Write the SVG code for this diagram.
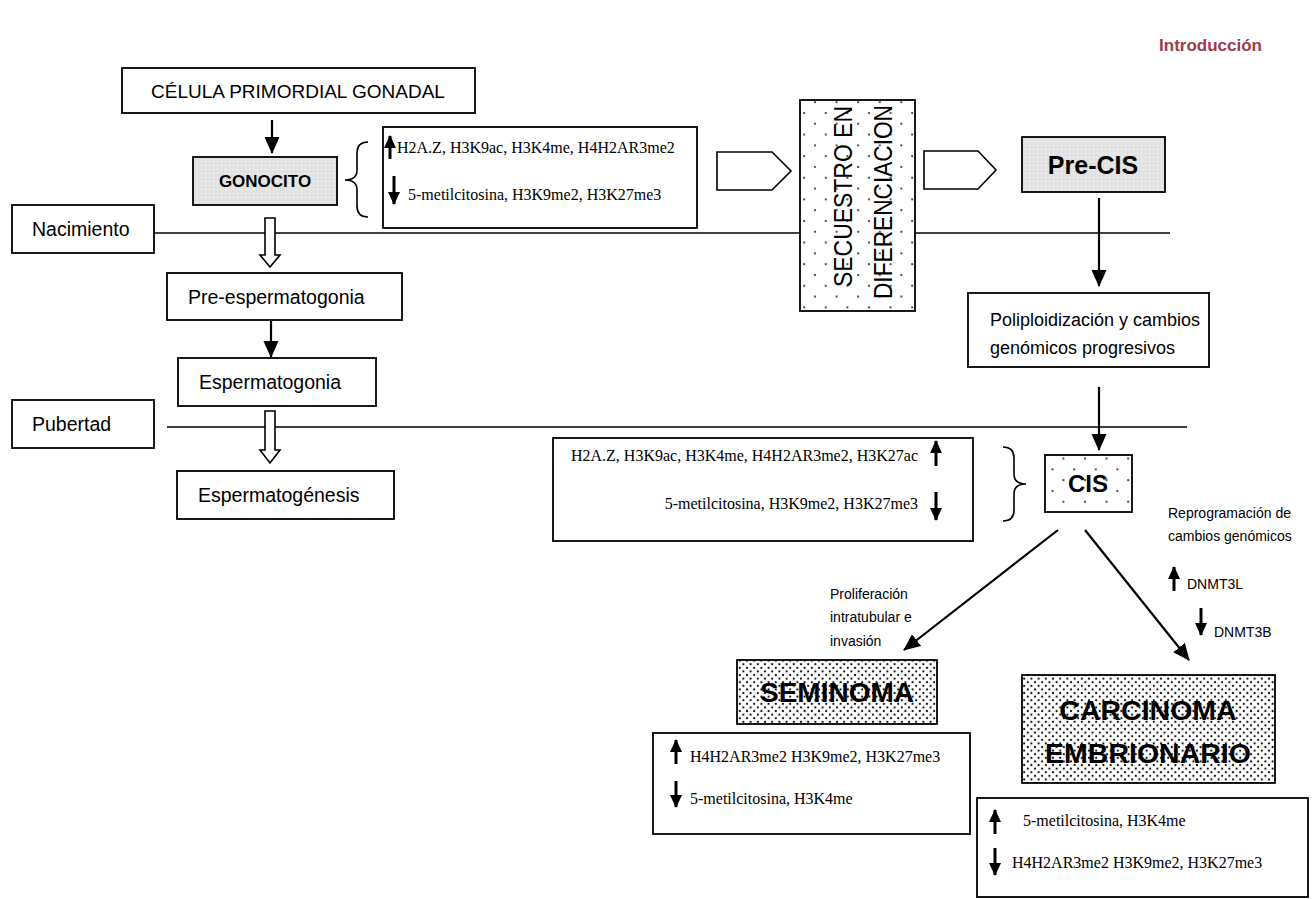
<svg xmlns="http://www.w3.org/2000/svg" width="1315" height="899" viewBox="0 0 1315 899">
<defs>
<style>
.box{fill:#fff;stroke:#000;stroke-width:1.8}
.gray{fill:url(#gray);stroke:#000;stroke-width:1.8}
.sp{fill:url(#sparse);stroke:#000;stroke-width:1.8}
.dn{fill:url(#dense);stroke:#000;stroke-width:1.8}
.ln{stroke:#000;stroke-width:1.6;fill:none}
.arr{stroke:#000;stroke-width:2.2;fill:none;marker-end:url(#ah)}
.sarr{stroke:#000;stroke-width:3;fill:none;marker-end:url(#sh)}
.hol{fill:#fff;stroke:#000;stroke-width:1.6}
.s{font-family:"Liberation Sans",Arial,sans-serif;fill:#000}
.r{font-family:"Liberation Serif","Times New Roman",serif;fill:#000;font-size:16px}
.b{font-weight:bold}
</style>
<pattern id="gray" width="4" height="4" patternUnits="userSpaceOnUse">
<rect width="4" height="4" fill="#e2e2e2"/>
<rect x="1" y="1" width="1" height="1" fill="#fff"/>
</pattern>
<pattern id="sparse" width="21.6" height="21.6" patternUnits="userSpaceOnUse">
<rect width="21.6" height="21.6" fill="#fff"/>
<circle cx="5" cy="5" r="1.1" fill="#333"/>
<circle cx="15.8" cy="15.8" r="1.1" fill="#333"/>
</pattern>
<pattern id="dense" width="7.2" height="7.2" patternUnits="userSpaceOnUse">
<rect width="7.2" height="7.2" fill="#fff"/>
<circle cx="1.8" cy="1.8" r="1.1" fill="#111"/>
<circle cx="5.4" cy="5.4" r="1.1" fill="#111"/>
</pattern>
<marker id="ah" markerUnits="userSpaceOnUse" markerWidth="18" markerHeight="18" viewBox="0 0 18 18" refX="16" refY="9" orient="auto">
<path d="M0,1.5 L17,9 L0,16.5 z" fill="#000"/>
</marker>
<marker id="sh" markerUnits="userSpaceOnUse" markerWidth="14" markerHeight="14" viewBox="0 0 14 14" refX="12" refY="7" orient="auto">
<path d="M0,1 L13,7 L0,13 z" fill="#000"/>
</marker>
</defs>

<rect width="1315" height="899" fill="#fff"/>

<text x="1262" y="51" class="s b" font-size="17" style="fill:#9e3a4a" text-anchor="end">Introducción</text>

<g id="connectors">
<line class="ln" x1="154" y1="233" x2="1170" y2="233"/>
<line class="ln" x1="167" y1="427" x2="1187" y2="427"/>
<line class="arr" x1="272" y1="120" x2="272" y2="153"/>
<line class="arr" x1="271" y1="320" x2="271" y2="357"/>
<polygon class="hol" points="265,218 275,218 275,255 280,255 270,267 260,255 265,255"/>
<polygon class="hol" points="265,411 275,411 275,450 280,450 270,463 260,450 265,450"/>
<polygon class="hol" points="717,152 772,152 791,171 772,190 717,190"/>
<polygon class="hol" points="924,151 978,151 996,170 978,189 924,189"/>
<line class="arr" x1="1099" y1="198" x2="1099" y2="286"/>
<line class="arr" x1="1099" y1="387" x2="1099" y2="450"/>
<line class="arr" x1="1058" y1="530" x2="904" y2="650"/>
<line class="arr" x1="1085" y1="530" x2="1189" y2="660"/>
<path class="ln" d="M368,142 Q357,142 357,153 L357,170 Q357,180 345,180 Q357,180 357,190 L357,206 Q357,217 368,217"/>
<path class="ln" d="M1003,447 Q1014,447 1014,458 L1014,474 Q1014,484 1026,484 Q1014,484 1014,494 L1014,510 Q1014,521 1003,521"/>
</g>

<g id="celula"><rect class="box" x="122" y="68" width="353" height="45"/>
<text x="298" y="98" class="s" font-size="19" text-anchor="middle">CÉLULA PRIMORDIAL GONADAL</text></g>

<g id="gonocito"><rect class="gray" x="193" y="157" width="144" height="48"/>
<text x="265" y="187" class="s b" font-size="17" text-anchor="middle">GONOCITO</text></g>

<g id="marcas1"><rect class="box" x="383" y="127" width="314" height="101"/>
<line class="sarr" x1="390" y1="159" x2="390" y2="136"/>
<text x="397" y="153" class="r">H2A.Z, H3K9ac, H3K4me, H4H2AR3me2</text>
<line class="sarr" x1="394" y1="176" x2="394" y2="204"/>
<text x="408" y="200" class="r">5-metilcitosina, H3K9me2, H3K27me3</text></g>

<g id="secuestro"><rect class="sp" x="800" y="100" width="115" height="211"/>
<text transform="translate(852,287) rotate(-90)" class="s" font-size="25" textLength="181" lengthAdjust="spacingAndGlyphs">SECUESTRO EN</text>
<text transform="translate(892,299) rotate(-90)" class="s" font-size="25" textLength="194" lengthAdjust="spacingAndGlyphs">DIFERENCIACION</text></g>

<g id="precis"><rect class="gray" x="1022" y="137" width="143" height="55"/>
<text x="1093" y="174" class="s b" font-size="25" text-anchor="middle">Pre-CIS</text></g>

<g id="nacimiento"><rect class="box" x="12" y="205" width="142" height="48"/>
<text x="32" y="236" class="s" font-size="19.5">Nacimiento</text></g>

<g id="preesp"><rect class="box" x="167" y="273" width="235" height="47"/>
<text x="188" y="304" class="s" font-size="19.5">Pre-espermatogonia</text></g>

<g id="esp"><rect class="box" x="178" y="358" width="198" height="48"/>
<text x="199" y="389" class="s" font-size="19.5">Espermatogonia</text></g>

<g id="pubertad"><rect class="box" x="12" y="400" width="142" height="48"/>
<text x="32" y="431" class="s" font-size="19.5">Pubertad</text></g>

<g id="espgen"><rect class="box" x="177" y="471" width="217" height="48"/>
<text x="198" y="502" class="s" font-size="19.5">Espermatogénesis</text></g>

<g id="poli"><rect class="box" x="968" y="293" width="241" height="74"/>
<text x="990" y="326" class="s" font-size="18">Poliploidización y cambios</text>
<text x="990" y="354" class="s" font-size="18">genómicos progresivos</text></g>

<g id="marcas2"><rect class="box" x="553" y="438" width="420" height="103"/>
<text x="918" y="461" class="r" text-anchor="end" font-size="15.5">H2A.Z, H3K9ac, H3K4me, H4H2AR3me2, H3K27ac</text>
<line class="sarr" x1="936" y1="466" x2="936" y2="441"/>
<text x="918" y="509" class="r" text-anchor="end" font-size="15.5">5-metilcitosina, H3K9me2, H3K27me3</text>
<line class="sarr" x1="936" y1="492" x2="936" y2="520"/></g>

<g id="cis"><rect class="sp" x="1045" y="455" width="87" height="57"/>
<text x="1088" y="492" class="s b" font-size="24" text-anchor="middle">CIS</text></g>

<g id="prolif">
<text x="830" y="599" class="s" font-size="14">Proliferación</text>
<text x="830" y="622" class="s" font-size="14">intratubular e</text>
<text x="830" y="646" class="s" font-size="14">invasión</text></g>

<g id="reprog">
<text x="1168" y="518" class="s" font-size="14">Reprogramación de</text>
<text x="1168" y="541" class="s" font-size="14">cambios genómicos</text>
<line class="sarr" x1="1174" y1="591" x2="1174" y2="567"/>
<text x="1187" y="589" class="s" font-size="14">DNMT3L</text>
<line class="sarr" x1="1201" y1="608" x2="1201" y2="635"/>
<text x="1214" y="637" class="s" font-size="14">DNMT3B</text></g>

<g id="seminoma"><rect class="dn" x="737" y="660" width="200" height="64"/>
<text x="837" y="702" class="s b" font-size="28" text-anchor="middle">SEMINOMA</text></g>

<g id="carcinoma"><rect class="dn" x="1022" y="675" width="253" height="108"/>
<text x="1148" y="720" class="s b" font-size="28.5" text-anchor="middle">CARCINOMA</text>
<text x="1148" y="763" class="s b" font-size="28.5" text-anchor="middle">EMBRIONARIO</text></g>

<g id="marcas3"><rect class="box" x="653" y="733" width="317" height="101"/>
<line class="sarr" x1="676" y1="764" x2="676" y2="740"/>
<text x="690" y="762" class="r">H4H2AR3me2 H3K9me2, H3K27me3</text>
<line class="sarr" x1="676" y1="781" x2="676" y2="807"/>
<text x="690" y="804" class="r">5-metilcitosina, H3K4me</text></g>

<g id="marcas4"><rect class="box" x="977" y="798" width="331" height="99"/>
<line class="sarr" x1="995" y1="834" x2="995" y2="810"/>
<text x="1023" y="826" class="r">5-metilcitosina, H3K4me</text>
<line class="sarr" x1="995" y1="848" x2="995" y2="875"/>
<text x="1012" y="868" class="r">H4H2AR3me2 H3K9me2, H3K27me3</text></g>
</svg>
